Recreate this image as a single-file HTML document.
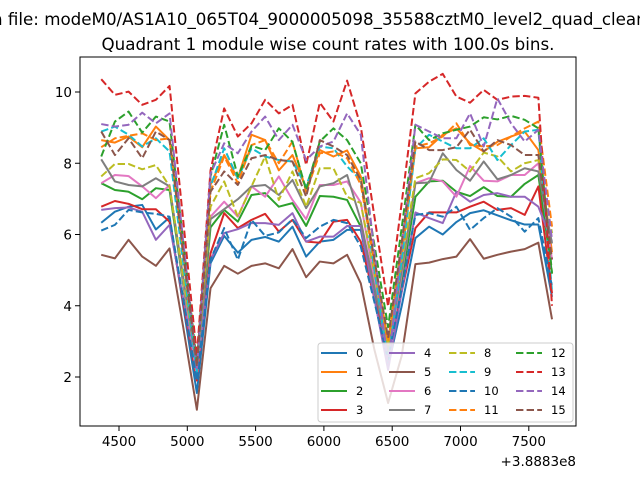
<!DOCTYPE html>
<html><head><meta charset="utf-8"><style>
body{margin:0;background:#fff}
svg{display:block;font-family:"DejaVu Sans","Liberation Sans",sans-serif}
</style></head><body>
<svg id="chart" width="640" height="480" viewBox="0 0 640 480" xmlns="http://www.w3.org/2000/svg">
<rect width="640" height="480" fill="#fff"/>
<text x="-8" y="25" font-size="16.7" fill="#000">n file: modeM0/AS1A10_065T04_9000005098_35588cztM0_level2_quad_clean.evt</text>
<text x="328" y="50" font-size="16.7" text-anchor="middle" fill="#000">Quadrant 1 module wise count rates with 100.0s bins.</text>
<g id="plot"></g>
<g id="axes"></g>
<g id="legend"></g>
</svg>
<script>
const times = [4370,4470,4570,4670,4770,4870,4970,5070,5170,5270,5370,5470,5570,5670,5770,5870,5970,6070,6170,6270,6370,6470,6570,6670,6770,6870,6970,7070,7170,7270,7370,7470,7570,7670];
const s0 = [6.33,6.64,6.78,6.83,6.14,6.48,4.0,1.55,5.19,5.96,5.49,5.85,5.93,5.8,6.22,5.38,5.8,5.85,6.13,6.13,4.2,2.3,4.0,5.9,6.22,6.0,6.35,6.6,6.68,6.54,6.4,6.28,6.28,4.25];
const s1 = [8.65,8.58,8.75,8.45,9.03,8.65,5.4,2.2,7.4,8.23,7.58,8.8,8.65,7.8,8.23,7.3,8.37,8.19,8.36,7.63,5.2,2.8,5.4,8.42,8.45,8.8,8.98,8.56,8.33,8.6,8.75,8.89,8.37,5.5];
const s2 = [7.44,7.25,7.2,6.99,7.3,7.25,4.6,2.0,6.2,6.69,6.36,7.11,7.16,6.78,6.88,6.24,7.08,7.06,6.97,6.22,4.4,2.6,4.7,7.06,7.49,7.51,7.2,7.08,7.33,7.08,7.06,7.42,7.67,4.91];
const s3 = [6.78,6.94,6.86,6.71,6.71,6.36,4.1,1.9,5.47,6.6,6.18,6.41,6.58,6.08,6.41,5.8,5.77,6.36,6.41,5.8,4.2,2.7,4.4,6.18,6.62,6.62,6.62,6.78,6.92,6.69,6.74,6.55,7.35,4.35];
const s4 = [6.69,6.74,6.76,6.64,5.85,6.27,4.2,2.1,5.29,6.04,6.15,6.32,6.32,6.27,6.6,5.8,5.94,5.94,6.24,6.24,4.2,2.2,4.4,6.62,6.46,6.32,7.2,6.92,7.11,7.16,7.06,7.06,6.78,5.8];
const s5 = [5.43,5.33,5.85,5.38,5.12,5.61,3.4,1.08,4.49,5.12,4.9,5.12,5.19,5.05,5.59,4.8,5.24,5.19,5.43,4.63,2.76,1.27,2.6,5.17,5.21,5.31,5.38,5.87,5.32,5.43,5.52,5.59,5.77,3.62];
const s6 = [7.44,7.67,7.64,7.35,7.02,7.39,4.7,2.0,6.5,6.92,6.5,7.35,7.06,7.63,6.97,6.43,7.39,7.39,7.49,6.9,4.7,2.5,4.9,7.44,7.58,7.49,7.06,7.92,7.51,7.49,7.67,7.67,8.0,5.29];
const s7 = [8.11,7.49,7.39,7.35,7.58,7.35,4.8,2.2,6.43,6.71,6.99,7.35,7.39,7.11,7.53,6.74,7.35,7.44,7.67,6.4,4.5,2.7,5.0,7.44,7.46,8.28,7.81,7.51,8.05,7.55,7.67,7.86,7.77,5.75];
const s8 = [7.63,7.98,7.98,7.83,7.95,7.35,4.8,2.3,6.78,7.49,6.5,7.35,8.19,6.97,7.77,6.78,7.86,7.86,7.06,6.88,4.9,2.9,5.2,7.58,7.72,8.11,8.09,7.77,8.3,8.19,7.77,8.0,8.09,6.04];
const s9 = [8.89,9.03,8.8,8.47,8.7,8.33,5.2,2.1,7.35,8.42,7.58,8.42,8.19,8.09,8.05,7.35,8.47,8.42,7.91,7.53,5.0,2.4,5.3,8.42,8.8,8.61,8.42,8.42,8.7,8.09,8.51,8.89,8.94,4.4];
const s10 = [6.11,6.27,6.69,6.62,6.58,6.5,4.2,1.9,5.3,6.18,5.29,6.41,5.96,6.06,6.43,5.9,6.22,6.41,6.32,5.66,4.1,2.5,4.5,6.55,6.6,6.5,6.78,6.13,6.46,6.74,6.5,6.08,6.46,4.54];
const s11 = [8.45,8.7,8.77,8.84,8.65,8.7,5.5,2.3,7.2,8.19,7.44,8.51,8.65,8.0,8.61,7.2,8.28,8.33,8.14,7.4,5.2,3.0,5.7,8.47,8.56,8.75,9.12,8.51,8.47,8.51,8.75,8.98,9.17,6.22];
const s12 = [8.19,9.17,9.45,8.86,9.31,9.17,5.8,2.4,7.63,9.08,7.63,8.49,8.37,8.98,8.6,7.25,8.61,8.98,8.65,8.0,5.7,3.4,6.2,9.08,8.65,8.84,8.94,9.03,9.29,9.23,9.33,9.22,8.98,4.9];
const s13 = [10.36,9.92,10.01,9.64,9.78,10.17,6.4,2.6,7.8,9.54,8.75,9.12,9.78,9.4,9.64,7.95,9.7,9.17,10.32,9.03,6.5,3.98,6.9,9.96,10.29,10.51,9.87,9.7,10.06,9.78,9.87,9.89,9.84,4.0];
const s14 = [9.1,9.03,9.08,9.42,9.12,9.4,5.8,2.2,7.7,8.56,8.28,8.89,9.31,8.65,9.08,8.09,8.47,8.61,9.4,8.8,5.5,2.3,5.7,9.08,8.89,8.7,8.7,9.4,8.47,9.82,9.12,8.61,8.94,5.85];
const s15 = [8.89,8.23,8.7,8.14,8.89,8.65,5.5,2.3,7.2,7.77,7.39,8.14,8.23,8.09,8.05,7.06,8.65,8.47,8.23,7.53,5.3,3.1,5.8,8.61,8.37,8.37,8.45,8.94,8.33,8.65,8.51,8.23,8.23,5.3];
const seriesList = [s0,s1,s2,s3,s4,s5,s6,s7,s8,s9,s10,s11,s12,s13,s14,s15];
const seriesLabels = ["0","1","2","3","4","5","6","7","8","9","10","11","12","13","14","15"];
const xTicks = [4500,5000,5500,6000,6500,7000,7500];
const yTicks = [2,4,6,8,10];

const colors = ["#1f77b4","#ff7f0e","#2ca02c","#d62728","#9467bd","#8c564b","#e377c2","#7f7f7f","#bcbd22","#17becf"];
const NS = "http://www.w3.org/2000/svg";
const L=80,R=576,T=57,B=426;
function xs(t){return 119 + (t-4500)*(68.3/500);}
function ys(v){return 377 - (v-2)*35.625;}
function mk(tag,attrs,parent){const e=document.createElementNS(NS,tag);for(const k in attrs)e.setAttribute(k,attrs[k]);parent.appendChild(e);return e;}

const plot=document.getElementById('plot');
seriesList.forEach((s,i)=>{
  const d=s.map((v,j)=>(j?'L':'M')+xs(times[j]).toFixed(2)+','+ys(v).toFixed(2)).join('');
  const p=mk('path',{d:d,fill:'none',stroke:colors[i%10],'stroke-width':2,'stroke-linejoin':'round'},plot);
  if(i>=8)p.setAttribute('stroke-dasharray','7.4,3.2');
  
  
});

const ax=document.getElementById('axes');
const frame=mk('rect',{x:L,y:T,width:R-L,height:B-T,fill:'none',stroke:'#000','stroke-width':1},ax);


xTicks.forEach(t=>{
  const x=xs(t);
  const tk=mk('line',{x1:x,x2:x,y1:B,y2:B+5,stroke:'#000','stroke-width':1},ax);
  
  
  const tx=mk('text',{x:x,y:B+20,'font-size':13.5,'text-anchor':'middle'},ax);
  tx.textContent=t;
  
  
});
yTicks.forEach(v=>{
  const y=ys(v);
  const tk=mk('line',{x1:L-5,x2:L,y1:y,y2:y,stroke:'#000','stroke-width':1},ax);
  
  
  const tx=mk('text',{x:L-8,y:y+5,'font-size':13.5,'text-anchor':'end'},ax);
  tx.textContent=v;
  
  
});
const off=mk('text',{x:576,y:466,'font-size':13.5,'text-anchor':'end'},ax);
off.textContent='+3.8883e8';



const lg=document.getElementById('legend');
const box=mk('rect',{x:318,y:343,width:255,height:79,rx:3,fill:'#fff','fill-opacity':0.8,stroke:'#ccc','stroke-width':1},lg);


const colX=[321,389,449,516];
seriesLabels.forEach((lab,i)=>{
  const c=Math.floor(i/4),r=i%4;
  const x=colX[c],y=353+r*19;
  const g=mk('g',{},lg);
  
  
  const ln=mk('line',{x1:x,x2:x+26,y1:y,y2:y,stroke:colors[i%10],'stroke-width':2},g);
  if(i>=8)ln.setAttribute('stroke-dasharray','7.4,3.2');
  const tx=mk('text',{x:x+35,y:y+4,'font-size':11.5},g);
  tx.textContent=lab;
});
</script>
</body></html>
